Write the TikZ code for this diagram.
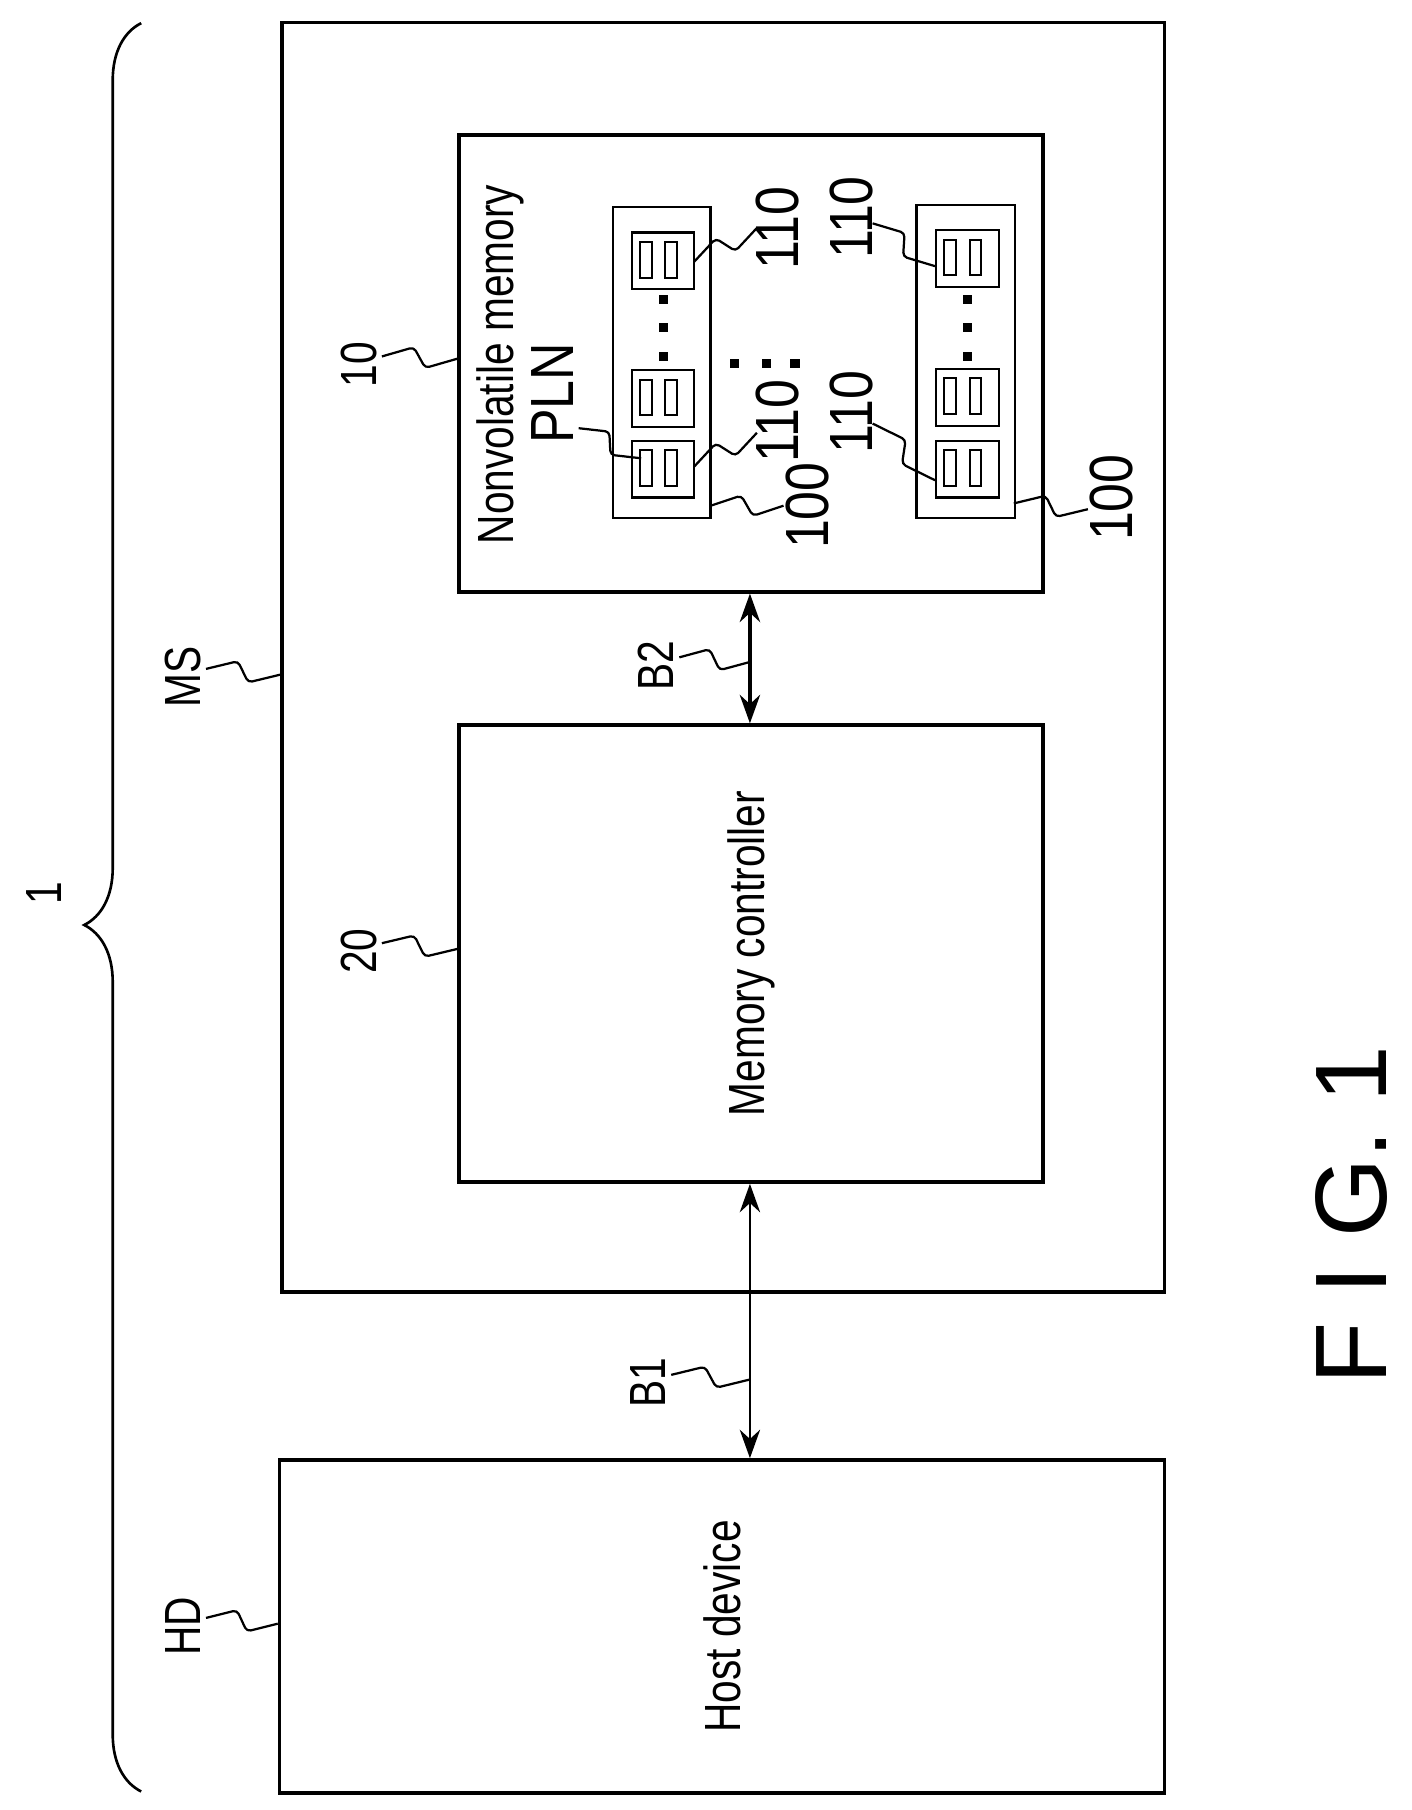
\documentclass[tikz,border=0pt]{standalone}
\usepackage{fontspec}
\setmainfont{Liberation Sans}
\usetikzlibrary{calc,arrows.meta,decorations.pathreplacing}
\begin{document}
\begin{tikzpicture}[x=0.02cm,y=-0.02cm,
  box/.style={draw,line width=1.7pt},
  thin/.style={draw,line width=1.1pt},
  lbl/.style={rotate=90,inner sep=0pt,font=\fontsize{25}{25}\selectfont},
  num/.style={rotate=90,inner sep=0pt,font=\fontsize{30}{30}\selectfont},
  dot/.style={fill=black,minimum size=4.5pt,inner sep=0pt}]
\useasboundingbox (0,0) rectangle (1220,1564);
\newcommand{\lead}[2]{\draw[line width=1.1pt,rounded corners=2pt] (#1) -- ($(#1)!.42!(#2)!5pt!90:(#2)$) -- ($(#1)!.58!(#2)!5pt!-90:(#2)$) -- (#2);}
\newcommand{\blk}[3]{%
  \node[thin,minimum width=1.08cm,minimum height=0.98cm,inner sep=0pt,anchor=north west] (#1) at (#2,#3) {};
  \draw[line width=1pt] ($(#1.north west)+(8,9)$) rectangle ++(10,31);
  \draw[line width=1pt] ($(#1.north west)+(30,9)$) rectangle ++(10,31);}
% boxes
\node[box,minimum width=15.26cm,minimum height=21.94cm,anchor=north west] (ms) at (242,18) {};
\node[box,minimum width=10.1cm,minimum height=7.9cm,anchor=north west] (nvm) at (395,115) {};
\node[box,minimum width=10.1cm,minimum height=7.9cm,anchor=north west] (mc) at (395,625) {};
\node[box,minimum width=15.3cm,minimum height=5.76cm,anchor=north west] (hd) at (240,1260) {};
\node[lbl] at (mc.center) {\scalebox{.8}[1]{Memory controller}};
\node[lbl] at (hd.center) {\scalebox{.8}[1]{Host device}};
\node[lbl] at (432,315) {\scalebox{.8}[1]{Nonvolatile memory}};
\node[rotate=90,inner sep=0pt,font=\fontsize{30}{30}\selectfont] (pln) at (477,340) {\scalebox{.85}[1]{PLN}};
% planes
\node[thin,minimum width=1.68cm,minimum height=5.38cm,anchor=north west] (p1) at (529,178) {};
\node[thin,minimum width=1.7cm,minimum height=5.42cm,anchor=north west] (p2) at (791,176) {};
\blk{a1}{545}{200}\blk{a2}{545}{319}\blk{a3}{545}{380}
\blk{b1}{808}{198}\blk{b2}{808}{318}\blk{b3}{808}{380}
\foreach \y in {259,283,308}{\node[dot] at (573,\y) {}; \node[dot] at (836,\y) {};}
\foreach \x in {635,662,687}{\node[dot] at (\x,314) {};}
% numbers
\node[num] (n1) at (672,197) {\scalebox{.85}[1]{110}};
\node[num] (n2) at (736,188) {\scalebox{.85}[1]{110}};
\node[num] (n3) at (672,364) {\scalebox{.85}[1]{110}};
\node[num] (n4) at (736,356) {\scalebox{.85}[1]{110}};
\node[num] (n5) at (698,437) {\scalebox{.85}[1]{100}};
\node[num] (n6) at (960,430) {\scalebox{.85}[1]{100}};
\coordinate (c1) at (654,197); \coordinate (c2) at (600,226);
\lead{c1}{c2}
\coordinate (c3) at (754,193); \coordinate (c4) at (808,230);
\lead{c3}{c4}
\coordinate (c5) at (654,374); \coordinate (c6) at (600,403);
\lead{c5}{c6}
\coordinate (c7) at (754,366); \coordinate (c8) at (808,415);
\lead{c7}{c8}
\coordinate (c9) at (677,437); \coordinate (c10) at (614,437);
\lead{c9}{c10}
\coordinate (c11) at (940,440); \coordinate (c12) at (876,435);
\lead{c11}{c12}
\coordinate (c13) at (500,370); \coordinate (c14) at (554,396);
\lead{c13}{c14}
% bus arrows
\draw[line width=1.8pt,{Stealth[length=14pt,width=10pt]}-{Stealth[length=14pt,width=10pt]}] (nvm.south -| 648,0) -- (mc.north -| 648,0);
\draw[line width=1.3pt,{Stealth[length=14pt,width=10pt]}-{Stealth[length=14pt,width=10pt]}] (mc.south -| 648,0) -- (hd.north -| 648,0);
% labels
\node[lbl] (lms) at (158,585) {\scalebox{.8}[1]{MS}};
\node[lbl] (lhd) at (158,1405) {\scalebox{.8}[1]{HD}};
\node[lbl] (l10) at (310,315) {\scalebox{.8}[1]{10}};
\node[lbl] (l20) at (310,822) {\scalebox{.8}[1]{20}};
\node[lbl] (lb2) at (567,575) {\scalebox{.8}[1]{B2}};
\node[lbl] (lb1) at (560,1195) {\scalebox{.8}[1]{B1}};
\coordinate (d1) at (178,578); \coordinate (d2) at (242,583); \lead{d1}{d2}
\coordinate (d3) at (178,1398); \coordinate (d4) at (240,1403); \lead{d3}{d4}
\coordinate (d5) at (330,308); \coordinate (d6) at (395,310); \lead{d5}{d6}
\coordinate (d7) at (330,815); \coordinate (d8) at (395,820); \lead{d7}{d8}
\coordinate (d9) at (587,568); \coordinate (d10) at (648,572); \lead{d9}{d10}
\coordinate (d11) at (580,1188); \coordinate (d12) at (648,1192); \lead{d11}{d12}
% brace
\draw[line width=1.3pt,decorate,decoration={brace,amplitude=28pt,aspect=.49}] (122,1548) -- (122,20);
\node[lbl] at (38,772) {\scalebox{.8}[1]{1}};
\node[rotate=90,inner sep=0pt,font=\fontsize{50}{50}\selectfont] at (1168,1050) {F I G. 1};
\end{tikzpicture}
\end{document}
